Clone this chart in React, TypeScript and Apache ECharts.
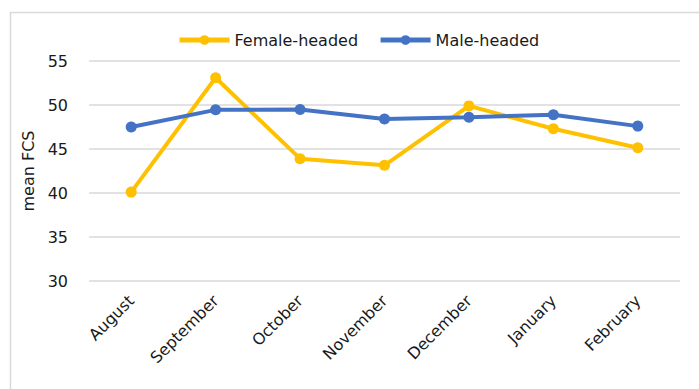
import React, { useEffect, useRef } from "react";
import * as echarts from "echarts";

const categories = ["August", "September", "October", "November", "December", "January", "February"];
const femaleHeaded = [40.1, 53.1, 43.9, 43.15, 49.9, 47.3, 45.15];
const maleHeaded = [47.5, 49.45, 49.5, 48.4, 48.6, 48.9, 47.6];
const yTicks = { min: 30, max: 55, interval: 5 };

const FONT = "'DejaVu Sans', 'Noto Sans', sans-serif";

export default function App() {
  const ref = useRef<HTMLDivElement>(null);
  useEffect(() => {
    if (!ref.current) return;
    const chart = echarts.init(ref.current, null, { renderer: "svg" });
    chart.setOption({
      animation: false,
      backgroundColor: "#ffffff",
      textStyle: { fontFamily: FONT },
      graphic: [
        {
          type: "rect",
          shape: { x: 10.5, y: 12.5, width: 720, height: 420 },
          style: { fill: "none", stroke: "#d9d9d9", lineWidth: 1.5 },
          silent: true,
        },
      ],
      legend: {
        top: 27,
        left: 172,
        itemWidth: 50,
        itemHeight: 12,
        itemGap: 20,
        lineStyle: { width: 5 },
        textStyle: { fontSize: 16, color: "#1a1a1a", fontFamily: FONT },
        data: ["Female-headed", "Male-headed"],
      },
      grid: { left: 89, right: 19, top: 61, bottom: 108, containLabel: false },
      xAxis: {
        type: "category",
        data: categories,
        boundaryGap: true,
        axisLine: { show: false },
        axisTick: { show: false },
        axisLabel: { rotate: 45, fontSize: 16, color: "#1a1a1a", margin: 17, interval: 0, fontFamily: FONT },
      },
      yAxis: {
        type: "value",
        min: yTicks.min,
        max: yTicks.max,
        interval: yTicks.interval,
        name: "mean FCS",
        nameLocation: "middle",
        nameGap: 49,
        nameTextStyle: { fontSize: 16, color: "#1a1a1a", fontFamily: FONT },
        axisLine: { show: false },
        axisTick: { show: false },
        axisLabel: { fontSize: 16, color: "#1a1a1a", margin: 21, fontFamily: FONT },
        splitLine: { lineStyle: { color: "#d9d9d9", width: 1.5 } },
      },
      series: [
        {
          name: "Female-headed",
          type: "line",
          data: femaleHeaded,
          symbol: "circle",
          symbolSize: 11,
          lineStyle: { color: "#FFC000", width: 4 },
          itemStyle: { color: "#FFC000" },
        },
        {
          name: "Male-headed",
          type: "line",
          data: maleHeaded,
          symbol: "circle",
          symbolSize: 11,
          lineStyle: { color: "#4472C4", width: 4 },
          itemStyle: { color: "#4472C4" },
        },
      ],
    });
    return () => chart.dispose();
  }, []);
  return (
    <div
      ref={ref}
      style={{ position: "fixed", left: 0, top: 0, width: 699, height: 389 }}
    />
  );
}
